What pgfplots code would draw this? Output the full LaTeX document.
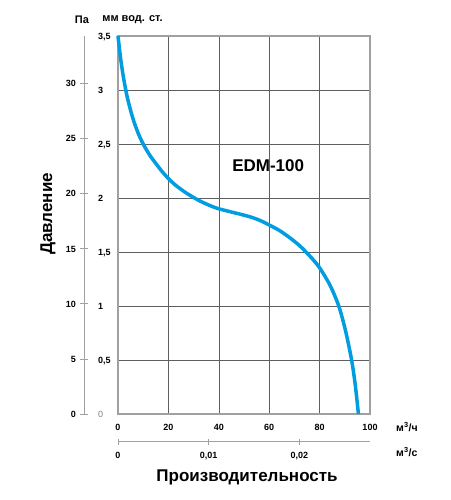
\documentclass[border=0pt]{standalone}
\usepackage{pgfplots}
\pgfplotsset{compat=1.18}
\usepackage{fontspec}
\setmainfont{Liberation Sans}
\definecolor{curve}{RGB}{0,157,224}
\definecolor{axgray}{RGB}{160,160,160}
\definecolor{gridgray}{RGB}{95,95,95}
\begin{document}
\begin{tikzpicture}[x=1pt,y=1pt]
\path[use as bounding box] (0,0) rectangle (450,500);
% main axis
\begin{axis}[
  at={(118pt,86pt)}, anchor=south west,
  scale only axis, width=252pt, height=378pt,
  xmin=0, xmax=100, ymin=0, ymax=3.5,
  xtick={0,20,40,60,80,100},
  xticklabels={0,20,40,60,80,100},
  ytick={0,0.5,1,1.5,2,2.5,3,3.5},
  yticklabels={{\color{gray}\mdseries 0},{0,5},{1},{1,5},{2},{2,5},{3},{3,5}},
  grid=major,
  grid style={gridgray, line width=0.5pt},
  axis line style={axgray, line width=1.2pt},
  major tick length=0pt,
  tick style={draw=none},
  ticklabel style={font=\fontsize{9}{10}\selectfont\bfseries, inner sep=0pt},
  xticklabel style={anchor=base, yshift=-16.5pt},
  yticklabel style={anchor=base west, xshift=-20pt, yshift=-3.2pt},
  clip=false,
]
\addplot[curve, line width=3.5pt, smooth, tension=0.5, line join=round] coordinates {
 (0,3.5) (1,3.30) (2,3.14) (3,3.01) (4,2.90) (6,2.73) (8,2.60) (10,2.50)
 (12.5,2.40) (15,2.32) (17.5,2.245) (20,2.18) (22.5,2.125) (25,2.08)
 (27.5,2.04) (30,2.005) (32.5,1.972) (35,1.945) (37.5,1.92) (40,1.90)
 (42.5,1.885) (45,1.87) (47.5,1.856) (50,1.841) (52.5,1.825) (55,1.805)
 (57.5,1.78) (60,1.75) (64,1.70) (68,1.635) (72,1.56) (74.6,1.50)
 (77,1.44) (79.5,1.37) (82,1.28) (84.5,1.175) (87.6,1.0) (90.2,0.78)
 (92.7,0.5) (94.2,0.26) (95.4,0)
};
\node[font=\fontsize{17}{20}\selectfont\bfseries] at (axis cs:59.6,2.30) {EDM-100};
\end{axis}
% Pa axis
\begin{axis}[
  at={(84pt,86pt)}, anchor=south west,
  scale only axis, width=100pt, height=378pt,
  xmin=0, xmax=1, ymin=0, ymax=34.3233,
  axis y line*=left, hide x axis,
  ytick={0,5,10,15,20,25,30},
  yticklabels={0,5,10,15,20,25,30},
  ytick align=center, major tick length=8pt,
  axis line style={axgray, line width=1pt},
  tick style={axgray, line width=0.8pt},
  ticklabel style={font=\fontsize{9}{10}\selectfont\bfseries, inner sep=0pt},
  yticklabel style={anchor=base east, xshift=-4pt, yshift=-3.2pt},
]
\addplot[draw=none] coordinates {(0,0)};
\end{axis}
% m3/s axis
\begin{axis}[
  at={(118pt,58pt)}, anchor=south west,
  scale only axis, width=252pt, height=20pt,
  xmin=0, xmax=0.0277778, ymin=0, ymax=1,
  scaled x ticks=false,
  axis x line*=bottom, hide y axis,
  xtick={0,0.01,0.02},
  xticklabels={{0},{0,01},{0,02}},
  xtick align=center, major tick length=6pt,
  axis line style={axgray, line width=1pt},
  tick style={axgray, line width=0.8pt},
  ticklabel style={font=\fontsize{9}{10}\selectfont\bfseries, inner sep=0pt},
  xticklabel style={anchor=base, yshift=-14pt},
]
\addplot[draw=none] coordinates {(0,0)};
\end{axis}
% texts
\node[anchor=west, font=\fontsize{10.5}{12}\selectfont\bfseries] at (392.7,73) {м\textsuperscript{3}/ч};
\node[anchor=west, font=\fontsize{10.5}{12}\selectfont\bfseries] at (392.7,48.3) {м\textsuperscript{3}/с};
\node[font=\fontsize{17}{20}\selectfont\bfseries] at (247,23) {Производительность};
\node[rotate=90, font=\fontsize{17}{20}\selectfont\bfseries] at (48,286) {Давление};
\node[font=\fontsize{11}{13}\selectfont\bfseries] at (82,480) {Па};
\node[font=\fontsize{11}{13}\selectfont\bfseries] at (132.5,480) {мм вод. ст.};
\end{tikzpicture}
\end{document}
